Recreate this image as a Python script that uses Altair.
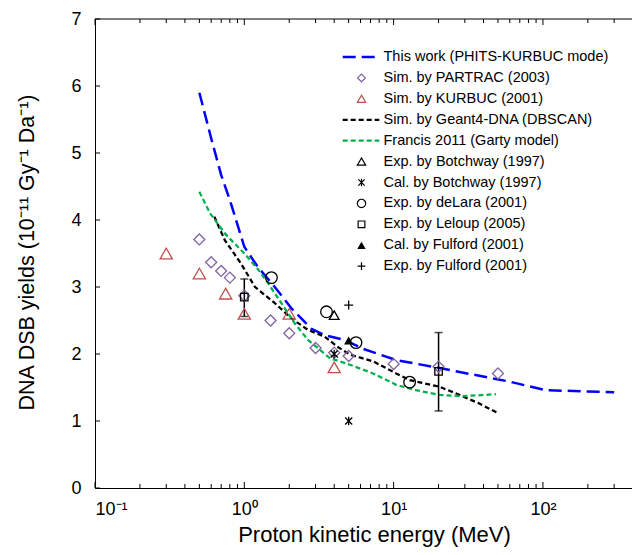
import altair as alt
import pandas as pd

# ---------------- data ----------------
work_E = [0.5, 0.6, 0.7, 0.8, 1.0, 1.23, 1.6, 2.07, 2.8, 3.45, 4.7, 6.2, 10.4, 20.3, 59, 105, 300]
work_Y = [5.9, 5.22, 4.67, 4.3, 3.6, 3.3, 3.0, 2.68, 2.38, 2.28, 2.21, 2.08, 1.91, 1.79, 1.59, 1.46, 1.43]

g4_E = [0.63, 0.74, 0.95, 1.18, 1.6, 2.07, 2.67, 3.45, 4.2, 5.1, 7.3, 10.4, 12.8, 20.3, 26.3, 37.5, 50.8]
g4_Y = [4.05, 3.7, 3.35, 3.0, 2.76, 2.53, 2.36, 2.26, 2.11, 1.99, 1.89, 1.71, 1.61, 1.51, 1.41, 1.26, 1.11]

fr_E = [0.5, 0.59, 0.74, 1.0, 1.23, 1.45, 1.77, 2.17, 2.67, 3.1, 3.73, 5.1, 7.3, 10.4, 14.1, 20.3, 29, 48.5]
fr_Y = [4.42, 4.1, 3.8, 3.5, 3.27, 3.05, 2.76, 2.46, 2.21, 2.09, 1.94, 1.84, 1.71, 1.54, 1.46, 1.39, 1.37, 1.40]

partrac_E = [0.5, 0.6, 0.7, 0.8, 1, 1.5, 2, 3, 4, 5, 10, 20, 50]
partrac_Y = [3.71, 3.37, 3.24, 3.14, 2.87, 2.5, 2.31, 2.09, 2.02, 1.97, 1.85, 1.81, 1.71]

kurbuc_E = [0.3, 0.5, 0.75, 1, 2, 4]
kurbuc_Y = [3.5, 3.2, 2.9, 2.6, 2.6, 1.8]

botch_exp_E = [4.0]
botch_exp_Y = [2.58]
botch_cal_E = [4.0, 5.0]
botch_cal_Y = [2.0, 1.0]
delara_E = [1.52, 3.55, 5.6, 12.8]
delara_Y = [3.14, 2.63, 2.17, 1.58]
leloup_E = [1.0, 20.0]
leloup_Y = [2.85, 1.74]
leloup_lo = [2.56, 1.15]
leloup_hi = [3.12, 2.32]
fulford_cal_E = [5.0]
fulford_cal_Y = [2.2]
fulford_exp_E = [5.0]
fulford_exp_Y = [2.73]

x_major = [0.1, 1, 10, 100]
x_minor = [0.2, 0.3, 0.4, 0.5, 0.6, 0.7, 0.8, 0.9,
           2, 3, 4, 5, 6, 7, 8, 9,
           20, 30, 40, 50, 60, 70, 80, 90,
           200, 300]
y_ticks = [0, 1, 2, 3, 4, 5, 6, 7]

legend_labels = ["This work (PHITS-KURBUC mode)", "Sim. by PARTRAC (2003)", "Sim. by KURBUC (2001)",
                 "Sim. by Geant4-DNA (DBSCAN)", "Francis 2011 (Garty model)", "Exp. by Botchway (1997)",
                 "Cal. by Botchway (1997)", "Exp. by deLara (2001)", "Exp. by Leloup (2005)",
                 "Cal. by Fulford (2001)", "Exp. by Fulford (2001)"]

# ---------------- styles ----------------
W, H = 537, 469
FONT = "Liberation Sans"
BLUE, PURPLE, RED, GREEN, BLACK = "#0000FF", "#8064A2", "#C0504D", "#00B050", "#000000"
PLUS = "M-1,0L1,0M0,-1L0,1"
STAR = "M-0.85,-0.85L0.85,0.85M-0.85,0.85L0.85,-0.85M0,-1L0,1"

label_expr = ("datum.value < 0.5 ? '10\u207b\u00b9' : datum.value < 5 ? '10\u2070' : "
              "datum.value < 50 ? '10\u00b9' : '10\u00b2'")

x_enc = alt.X("E:Q",
              scale=alt.Scale(type="log", domain=[0.1, 395], nice=False),
              axis=alt.Axis(values=x_major, labelExpr=label_expr, ticks=False, grid=False,
                            labelPadding=12, labelFontSize=18,
                            title="Proton kinetic energy (MeV)", titleFontSize=22,
                            titleBaseline="alphabetic", titleY=53, titleX=279))
y_enc = alt.Y("Y:Q",
              scale=alt.Scale(domain=[0, 7], nice=False),
              axis=alt.Axis(values=y_ticks, ticks=False, grid=False, labelPadding=14,
                            labelFontSize=18,
                            title="DNA DSB yields (10\u207b\u00b9\u00b9 Gy\u207b\u00b9 Da\u207b\u00b9)",
                            titleFontSize=21.5, titleBaseline="alphabetic", titleAngle=270,
                            titleAlign="center", titleX=-62, titleY=233))


def df(E, Y):
    return pd.DataFrame({"E": E, "Y": Y})


def line(E, Y, color, dash, width):
    return alt.Chart(df(E, Y)).mark_line(color=color, strokeDash=dash, strokeWidth=width).encode(
        x=x_enc, y=y_enc)


def pts(E, Y, shape, color, size, filled=False, sw=1.3):
    return alt.Chart(df(E, Y)).mark_point(shape=shape, color=color, size=size, filled=filled,
                                          strokeWidth=sw, opacity=1).encode(x=x_enc, y=y_enc)


lines = [
    line(work_E, work_Y, BLUE, [13, 6], 2.5),
    line(g4_E, g4_Y, BLACK, [5, 3], 2.25),
    line(fr_E, fr_Y, GREEN, [5, 3], 2.25),
]

err_df = pd.DataFrame({"E": leloup_E, "Y": leloup_lo, "Y2": leloup_hi})
errbars = [
    alt.Chart(err_df).mark_rule(color=BLACK, strokeWidth=1.5).encode(x=x_enc, y=y_enc, y2="Y2:Q"),
    alt.Chart(pd.DataFrame({"E": leloup_E, "Y": leloup_lo})).mark_tick(
        orient="horizontal", color=BLACK, size=8, thickness=1.5).encode(x=x_enc, y=y_enc),
    alt.Chart(pd.DataFrame({"E": leloup_E, "Y": leloup_hi})).mark_tick(
        orient="horizontal", color=BLACK, size=8, thickness=1.5).encode(x=x_enc, y=y_enc),
]

points = [
    pts(partrac_E, partrac_Y, "diamond", PURPLE, 121),
    pts(kurbuc_E, kurbuc_Y, "triangle-up", RED, 150),
    pts(botch_exp_E, botch_exp_Y, "triangle-up", BLACK, 95),
    pts(botch_cal_E, botch_cal_Y, STAR, BLACK, 70),
    pts(delara_E, delara_Y, "circle", BLACK, 135),
    pts(leloup_E, leloup_Y, "square", BLACK, 56),
    pts(fulford_cal_E, fulford_cal_Y, "triangle-up", BLACK, 85, filled=True),
    pts(fulford_exp_E, fulford_exp_Y, PLUS, BLACK, 80),
]

# frame ticks (inward)
maj = pd.DataFrame({"E": x_major})
mnr = pd.DataFrame({"E": x_minor})
yt = pd.DataFrame({"Y": y_ticks})
ticks = [
    alt.Chart(maj).mark_rule(color=BLACK, strokeWidth=1).encode(x=x_enc, y=alt.value(H), y2=alt.value(H - 6)),
    alt.Chart(mnr).mark_rule(color=BLACK, strokeWidth=1).encode(x=x_enc, y=alt.value(H), y2=alt.value(H - 4)),
    alt.Chart(maj).mark_rule(color=BLACK, strokeWidth=1).encode(x=x_enc, y=alt.value(0), y2=alt.value(6)),
    alt.Chart(mnr).mark_rule(color=BLACK, strokeWidth=1).encode(x=x_enc, y=alt.value(0), y2=alt.value(4)),
    alt.Chart(yt).mark_rule(color=BLACK, strokeWidth=1).encode(y=y_enc, x=alt.value(0), x2=alt.value(5)),
    alt.Chart(yt).mark_rule(color=BLACK, strokeWidth=1).encode(x=alt.value(0), x2=alt.value(W), y=alt.value(0)).transform_filter("datum.Y == 7"),
]

main = alt.layer(*lines, *errbars, *points, *ticks)

# ---------------- legend (own vertical scale over row index) ----------------
leg_y = alt.Y("idx:Q", scale=alt.Scale(domain=[0, 10], range=[38, 247.2], nice=False), axis=None)
LX0, LX1, LXM, LXT = 247.7, 284.3, 266.5, 288.5


def lrow(i):
    return pd.DataFrame({"idx": [i], "label": [legend_labels[i]]})


def lline(i, color, dash, width):
    return alt.Chart(lrow(i)).mark_rule(color=color, strokeDash=dash, strokeWidth=width).encode(
        y=leg_y, x=alt.value(LX0), x2=alt.value(LX1))


def lpt(i, shape, color, size, filled=False):
    return alt.Chart(lrow(i)).mark_point(shape=shape, color=color, size=size, filled=filled,
                                         strokeWidth=1.2, opacity=1).encode(y=leg_y, x=alt.value(LXM))


leg_text = alt.Chart(pd.DataFrame({"idx": list(range(len(legend_labels))), "label": legend_labels})).mark_text(
    align="left", baseline="middle", font=FONT, fontSize=14.5, color=BLACK).encode(
    y=leg_y, x=alt.value(LXT), text="label:N")

legend = alt.layer(
    lline(0, BLUE, [13, 6], 2.5),
    lpt(1, "diamond", PURPLE, 60),
    lpt(2, "triangle-up", RED, 70),
    lline(3, BLACK, [5, 3], 2.25),
    lline(4, GREEN, [5, 3], 2.25),
    lpt(5, "triangle-up", BLACK, 70),
    lpt(6, STAR, BLACK, 55),
    lpt(7, "circle", BLACK, 70),
    lpt(8, "square", BLACK, 45),
    lpt(9, "triangle-up", BLACK, 70, filled=True),
    lpt(10, PLUS, BLACK, 60),
    leg_text,
)

chart = alt.layer(main, legend).resolve_scale(y="independent").properties(
    width=W, height=H,
    autosize=alt.AutoSizeParams(type="none"),
    padding={"left": 87, "top": 11, "right": 0, "bottom": 59},
).configure_view(stroke=None).configure_axis(
    labelFont=FONT, titleFont=FONT, labelColor=BLACK, titleColor=BLACK,
    titleFontWeight="normal", domainColor=BLACK, domainWidth=1,
)

chart.save("out.html", embed_options={"renderer": "svg", "actions": False})
